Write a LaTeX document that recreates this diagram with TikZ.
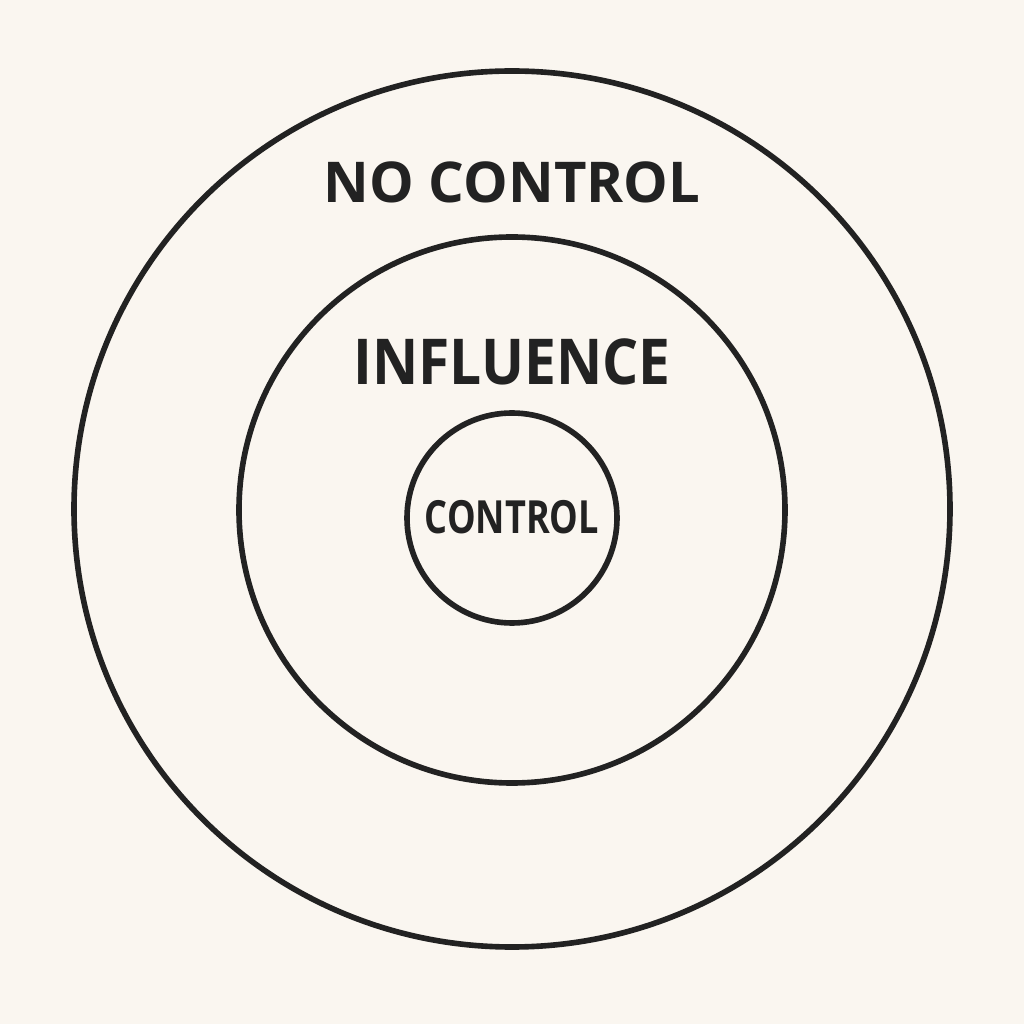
\documentclass[tikz,border=0pt]{standalone}
\usepackage{fontspec}
\setmainfont{Open Sans}
\definecolor{paper}{HTML}{FAF6F0}
\definecolor{ink}{HTML}{222222}
\tikzset{ring/.style={draw=ink, line width=1.6pt},
  zone/.style={text=ink, font=\bfseries, inner sep=0pt}}
\begin{document}
\begin{tikzpicture}
\fill [paper] (0,0) rectangle (10.24,10.24);
\useasboundingbox (0,0) rectangle (10.24,10.24);
\draw [ring] (5.12,5.15) circle (4.38);
\draw [ring] (5.12,5.14) circle (2.73);
\draw [ring] (5.12,5.06) circle (1.05);
\node [zone, font=\bfseries\fontsize{16}{18}\selectfont] (nocontrol) at (5.12,8.42) {NO CONTROL};
\node [zone, font=\bfseries\fontsize{18}{20}\selectfont, xscale=0.9] (influence) at (5.12,6.62) {INFLUENCE};
\node [zone, font=\bfseries\fontsize{13}{15}\selectfont, xscale=0.79] (control) at (5.12,5.07) {CONTROL};
\end{tikzpicture}
\end{document}
